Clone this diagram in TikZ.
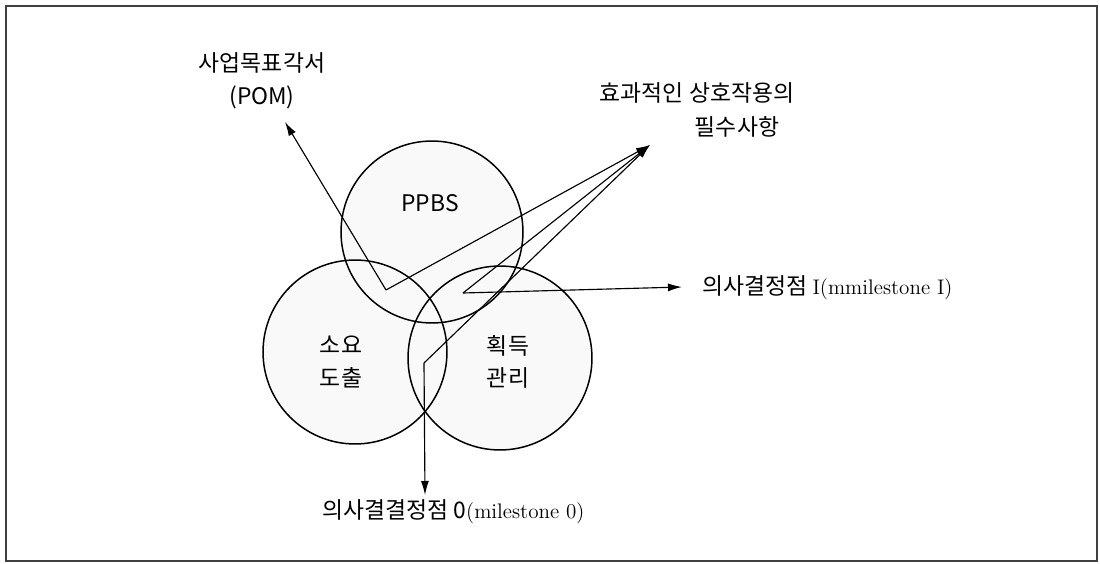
\documentclass[tikz,border=0pt]{standalone}
\usepackage{fontspec}
\newfontfamily\kr{Noto Sans CJK KR}
\usetikzlibrary{arrows.meta}
\newcommand\lat[1]{{\rmfamily\fontsize{12}{15}\selectfont #1}}
\tikzset{
  ring/.style={line width=0.85pt},
  pointer/.style={line width=0.65pt,-{Latex[length=2.8mm,width=1.6mm]}},
  lbl/.style={font=\kr\fontsize{13}{18.5}\selectfont,inner sep=0pt,align=center}
}

\begin{document}
\begin{tikzpicture}[x=0.02cm,y=-0.02cm]
		%%%%% START %%%%%
		\useasboundingbox (0,0) rectangle (1100,564);
		\draw[line width=0.9pt,black!75] (6,6) rectangle (1097,561);
		
		% three circles
		\fill[black!2.5] (432,232) circle[radius=1.82cm];
		\fill[black!2.5] (355,352) circle[radius=1.84cm];
		\fill[black!2.5] (500,358) circle[radius=1.84cm];
		\draw[ring] (432,232) circle[radius=1.82cm];
		\draw[ring] (355,352) circle[radius=1.84cm];
		\draw[ring] (500,358) circle[radius=1.84cm];
		
		\node[lbl] (ppbs) at (430,203) {PPBS};
		\node[lbl] (soyo) at (341,362) {소요\\도출};
		\node[lbl] (hoek) at (508,362) {획득\\관리};
		
		\node[lbl] (pom) at (262,81) {사업목표각서\\(POM)};
		\node[lbl] (hyo1) at (697,93) {효과적인 상호작용의};
		\node[lbl] (hyo2) at (737,127) {필수사항};
		\node[lbl,anchor=west] (ms1) at (702,288) {의사결정점 \lat{I(mmilestone I)}};
		\node[lbl,anchor=west] (ms0) at (322,512) {의사결결정점 0\lat{(milestone 0)}};
		
		% bends and tips
		\coordinate (vA) at (386,290);
		\coordinate (vB) at (463,293);
		\coordinate (vC) at (424,363);
		\coordinate (tPom) at (285,122);
		\coordinate (tHyo) at (650,145);
		\coordinate (tMs1) at (682,287);
		\coordinate (tMs0) at (425,495);
		
		\draw[pointer] (vA) -- (tPom);
		\draw[pointer] (vA) -- (tHyo);
		\draw[pointer] (vB) -- (tMs1);
		\draw[pointer] (vB) -- (tHyo);
		\draw[pointer] (vC) -- (tMs0);
		\draw[pointer] (vC) -- (tHyo);
		%%%%% END %%%%%
\end{tikzpicture}
\end{document}
